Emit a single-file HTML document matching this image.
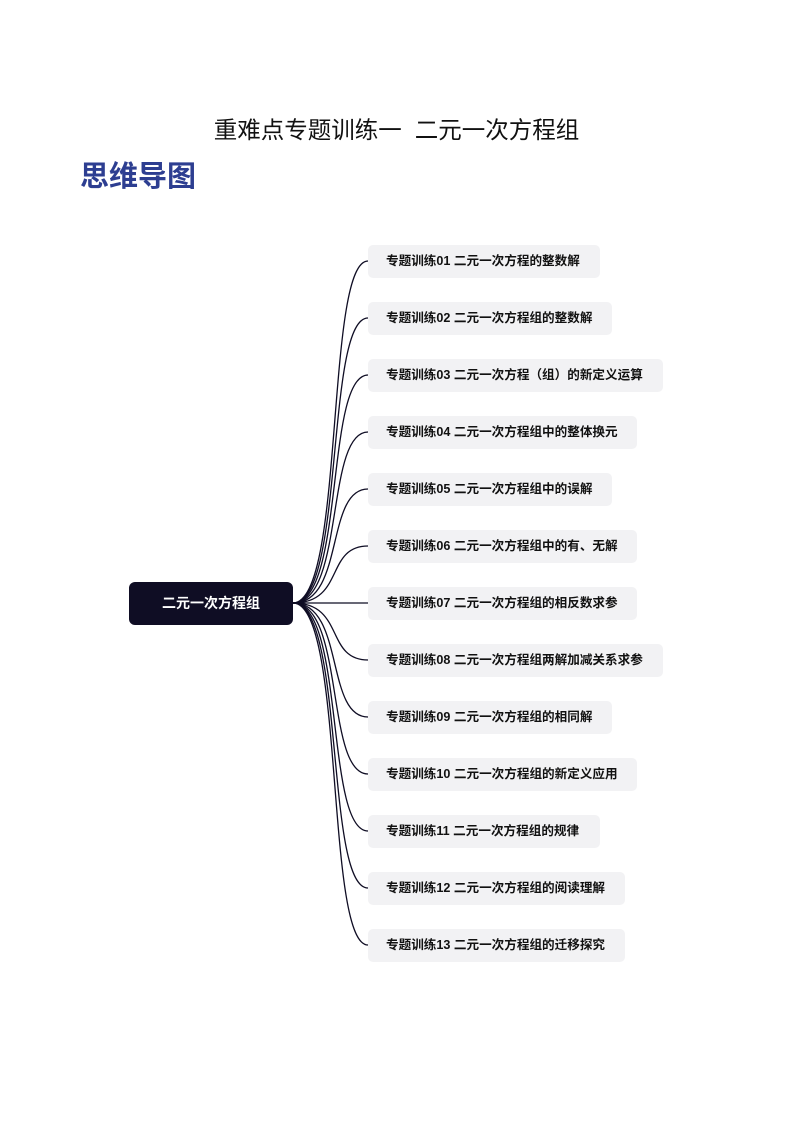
<!DOCTYPE html>
<html><head><meta charset="utf-8"><style>
body{margin:0;width:793px;height:1122px;background:#fff;position:relative;font-family:"Liberation Sans","Noto Sans CJK SC",sans-serif;overflow:hidden}
.t{position:absolute;top:111px;left:0;width:793px;text-align:center;font-size:23.5px;color:#111}
.h{position:absolute;top:153px;left:80px;font-size:29px;font-weight:bold;color:#2d3e91}
.root{position:absolute;left:129px;top:582px;width:164px;height:43px;background:#0f0d24;border-radius:6px;color:#fff;font-size:14px;font-weight:bold;text-align:center;line-height:43px}
.n{position:absolute;left:368px;height:33px;line-height:33px;background:#f2f2f4;border-radius:5px;font-size:12.6px;font-weight:bold;color:#111;padding-left:18px;box-sizing:border-box;white-space:nowrap}
svg{position:absolute;left:0;top:0}
</style></head><body>
<div class="t">重难点专题训练一&nbsp; 二元一次方程组</div>
<div class="h">思维导图</div>
<svg width="793" height="1122" fill="none" stroke="#0f0d24" stroke-width="1.3">
<path d="M293 603 C345 603 325 261 368 261"/>
<path d="M293 603 C345 603 325 318 368 318"/>
<path d="M293 603 C345 603 325 375 368 375"/>
<path d="M293 603 C345 603 325 432 368 432"/>
<path d="M293 603 C345 603 325 489 368 489"/>
<path d="M293 603 C345 603 325 546 368 546"/>
<path d="M293 603 L368 603"/>
<path d="M293 603 C345 603 325 660 368 660"/>
<path d="M293 603 C345 603 325 717 368 717"/>
<path d="M293 603 C345 603 325 774 368 774"/>
<path d="M293 603 C345 603 325 831 368 831"/>
<path d="M293 603 C345 603 325 888 368 888"/>
<path d="M293 603 C345 603 325 945 368 945"/>
</svg>
<div class="root">二元一次方程组</div>
<div class="n" style="top:245px;width:232px">专题训练01 二元一次方程的整数解</div>
<div class="n" style="top:302px;width:244px">专题训练02 二元一次方程组的整数解</div>
<div class="n" style="top:359px;width:295px">专题训练03 二元一次方程（组）的新定义运算</div>
<div class="n" style="top:416px;width:269px">专题训练04 二元一次方程组中的整体换元</div>
<div class="n" style="top:473px;width:244px">专题训练05 二元一次方程组中的误解</div>
<div class="n" style="top:530px;width:269px">专题训练06 二元一次方程组中的有、无解</div>
<div class="n" style="top:587px;width:269px">专题训练07 二元一次方程组的相反数求参</div>
<div class="n" style="top:644px;width:295px">专题训练08 二元一次方程组两解加减关系求参</div>
<div class="n" style="top:701px;width:244px">专题训练09 二元一次方程组的相同解</div>
<div class="n" style="top:758px;width:269px">专题训练10 二元一次方程组的新定义应用</div>
<div class="n" style="top:815px;width:232px">专题训练11 二元一次方程组的规律</div>
<div class="n" style="top:872px;width:257px">专题训练12 二元一次方程组的阅读理解</div>
<div class="n" style="top:929px;width:257px">专题训练13 二元一次方程组的迁移探究</div>
</body></html>
